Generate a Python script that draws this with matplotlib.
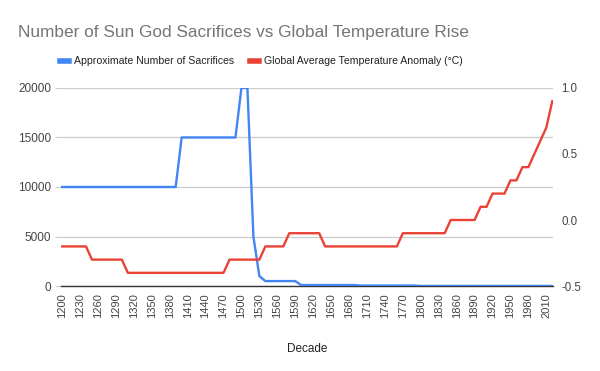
import matplotlib
matplotlib.use("Agg")
import matplotlib.pyplot as plt
from matplotlib.lines import Line2D

plt.rcParams['font.family'] = ['Liberation Sans', 'DejaVu Sans']

# decades 1200 .. 2020
decades = list(range(1200, 2030, 10))

# approximate number of sacrifices per decade
sacrifices = ([10000] * 20 + [15000] * 10 + [20000, 20000, 5000, 1000]
              + [500] * 6 + [100] * 10 + [50] * 10 + [10] * 23)

# global average temperature anomaly (°C)
temp_anomaly = ([-0.2] * 5 + [-0.3] * 6 + [-0.4] * 17 + [-0.3] * 6
                + [-0.2] * 4 + [-0.1] * 6 + [-0.2] * 13 + [-0.1] * 8
                + [0.0] * 5 + [0.1] * 2 + [0.2] * 3 + [0.3] * 2 + [0.4] * 2
                + [0.5, 0.6, 0.7, 0.9])

left_ticks = [0, 5000, 10000, 15000, 20000]
right_ticks = [-0.5, 0.0, 0.5, 1.0]

BLUE = "#4285F4"
RED = "#EA4335"

fig = plt.figure(figsize=(6, 3.71), dpi=100)
ax = fig.add_axes([0.102, 0.229, 0.82, 0.534])
ax2 = ax.twinx()

x = list(range(len(decades)))
ax.plot(x, sacrifices, color=BLUE, lw=1.7, zorder=3)
ax2.plot(x, temp_anomaly, color=RED, lw=1.7, zorder=3)

ax.set_xlim(-0.15, len(decades) - 0.85)
ax.set_ylim(0, 20000)
ax2.set_ylim(-0.5, 1.0)

ax.set_yticks(left_ticks)
ax.set_yticklabels([str(v) for v in left_ticks], fontsize=8.5, color="#444444")
ax2.set_yticks(right_ticks)
ax2.set_yticklabels([f"{v:.1f}" for v in right_ticks], fontsize=8.3, color="#444444")

xt = x[::3]
ax.set_xticks(xt)
ax.set_xticklabels([str(decades[i]) for i in xt], rotation=90, fontsize=8, color="#444444")

ax.grid(axis="y", color="#cccccc", lw=0.9, zorder=0)
ax.tick_params(axis="y", length=4, color="#cccccc", pad=3)
ax.tick_params(axis="x", length=0, pad=5)
ax2.tick_params(axis="y", length=0, pad=6)

for a in (ax, ax2):
    for s in ("top", "left", "right"):
        a.spines[s].set_visible(False)
ax2.spines["bottom"].set_visible(False)
ax.spines["bottom"].set_color("#333333")
ax.spines["bottom"].set_linewidth(1.0)

ax.set_xlabel("Decade", fontsize=8.5, color="#222222", labelpad=18)

fig.text(0.03, 0.912, "Number of Sun God Sacrifices vs Global Temperature Rise",
         fontsize=12.4, color="#757575", ha="left", va="center")

handles = [Line2D([], [], color=BLUE, lw=4),
           Line2D([], [], color=RED, lw=4)]
fig.legend(handles,
           ["Approximate Number of Sacrifices", "Global Average Temperature Anomaly (°C)"],
           loc="center", bbox_to_anchor=(0.436, 0.835), ncol=2, frameon=False,
           fontsize=7.6, handlelength=0.85, handletextpad=0.5, columnspacing=1.5,
           labelcolor="#222222")

fig.savefig("out.png", dpi=100)
